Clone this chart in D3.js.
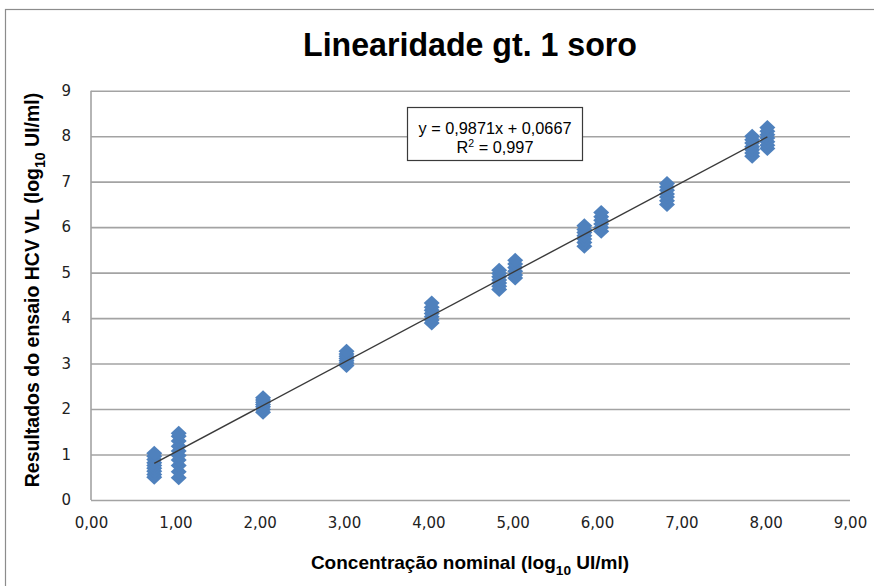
<!DOCTYPE html>
<html>
<head>
<meta charset="utf-8">
<script src="https://cdn.jsdelivr.net/npm/d3@7/dist/d3.min.js"></script>
<style>
  html, body { margin: 0; padding: 0; background: #fff; }
  svg { display: block; }
</style>
</head>
<body>
<svg id="chart" width="874" height="586"></svg>
<script>
// Nominal concentration of each panel level (log10 UI/ml)
const concentration = [0.75, 1.04, 2.04, 3.03, 4.04, 4.84, 5.03, 5.85, 6.05, 6.83, 7.84, 8.02];
// Assay results for the replicates of each level (log10 UI/ml)
const results = [
  [0.50, 0.56, 0.63, 0.70, 0.76, 0.82, 0.89, 0.96, 1.03],
  [0.49, 0.62, 0.76, 0.88, 0.98, 1.08, 1.18, 1.30, 1.40, 1.47],
  [1.93, 1.99, 2.05, 2.10, 2.15, 2.20, 2.25],
  [2.96, 3.01, 3.06, 3.11, 3.16, 3.21, 3.27],
  [3.89, 3.96, 4.03, 4.10, 4.17, 4.24, 4.33],
  [4.63, 4.70, 4.77, 4.84, 4.91, 4.98, 5.05],
  [4.88, 4.95, 5.03, 5.11, 5.19, 5.27],
  [5.58, 5.66, 5.74, 5.81, 5.88, 5.95, 6.03],
  [5.91, 5.99, 6.07, 6.15, 6.23, 6.32],
  [6.50, 6.58, 6.66, 6.73, 6.81, 6.88, 6.96],
  [7.56, 7.63, 7.70, 7.77, 7.85, 7.92, 8.00],
  [7.73, 7.80, 7.88, 7.96, 8.03, 8.11, 8.19]
];
// Linear trendline fitted to the data
const slope = 0.9871;
const intercept = 0.0667;
const rSquared = 0.997;
const xTicks = [0, 1, 2, 3, 4, 5, 6, 7, 8, 9];
const yTicks = [0, 1, 2, 3, 4, 5, 6, 7, 8, 9];

const svg = d3.select("#chart");
const W = 874, H = 586;
const plot = { left: 91, right: 850, top: 90.7, bottom: 500 };

const ptLocale = d3.formatLocale({ decimal: ",", thousands: ".", grouping: [3], currency: ["", ""] });
const fmt2 = ptLocale.format(".2f");
const fmt4 = ptLocale.format(".4f");
const fmt3 = ptLocale.format(".3f");

const x = d3.scaleLinear().domain([0, 9]).range([plot.left, plot.right]);
const y = d3.scaleLinear().domain([0, 9]).range([plot.bottom, plot.top]);

// Outer chart frame
svg.append("rect")
  .attr("x", 5.5).attr("y", 9.5)
  .attr("width", W + 20).attr("height", H + 20)
  .attr("fill", "#fff")
  .attr("stroke", "#8c8c8c").attr("stroke-width", 1.2);

// Horizontal gridlines and y tick labels
const yAxis = d3.axisLeft(y).tickValues(yTicks).tickSize(-(plot.right - plot.left)).tickPadding(20)
  .tickFormat(d3.format("d"));
const gy = svg.append("g").attr("transform", `translate(${plot.left},0)`).call(yAxis);
gy.select(".domain").remove();
gy.selectAll(".tick line").attr("stroke", "#a3a3a3").attr("stroke-width", 1.6);
gy.selectAll(".tick text")
  .attr("font-family", "'DejaVu Sans', Verdana, sans-serif").attr("font-size", 15)
  .attr("fill", "#222");

// Vertical axis line
svg.append("line")
  .attr("x1", plot.left).attr("x2", plot.left)
  .attr("y1", plot.top).attr("y2", plot.bottom)
  .attr("stroke", "#a3a3a3").attr("stroke-width", 1.6);

// X tick labels (no tick marks)
const xAxis = d3.axisBottom(x).tickValues(xTicks).tickSize(0).tickPadding(17).tickFormat(fmt2);
const gx = svg.append("g").attr("transform", `translate(0,${plot.bottom})`).call(xAxis);
gx.select(".domain").remove();
gx.selectAll(".tick text")
  .attr("font-family", "'DejaVu Sans', Verdana, sans-serif").attr("font-size", 15)
  .attr("fill", "#222");

// Data points as diamonds
const points = [];
concentration.forEach((c, i) => results[i].forEach(v => points.push({ x: c, y: v })));
const hw = 8, hh = 7.5;
const diamond = `M0,${-hh}L${hw},0L0,${hh}L${-hw},0Z`;
svg.append("g").selectAll("path").data(points).join("path")
  .attr("d", diamond)
  .attr("transform", d => `translate(${x(d.x)},${y(d.y)})`)
  .attr("fill", "#4f81bd");

// Trendline across the range of the data
const xMin = d3.min(concentration), xMax = d3.max(concentration);
svg.append("line")
  .attr("x1", x(xMin)).attr("y1", y(slope * xMin + intercept))
  .attr("x2", x(xMax)).attr("y2", y(slope * xMax + intercept))
  .attr("stroke", "#3a3a3a").attr("stroke-width", 1.4);

// Equation label
const box = svg.append("g");
box.append("rect")
  .attr("x", 407.5).attr("y", 107.5).attr("width", 175).attr("height", 53)
  .attr("fill", "#fff").attr("stroke", "#3a3a3a").attr("stroke-width", 1.2);
box.append("text")
  .attr("x", 495).attr("y", 133.5)
  .attr("text-anchor", "middle")
  .attr("font-family", "'Liberation Sans', Arial, sans-serif").attr("font-size", 16.3)
  .attr("fill", "#000")
  .text(`y = ${fmt4(slope)}x + ${fmt4(intercept)}`);
const r2 = box.append("text")
  .attr("x", 495).attr("y", 152.5)
  .attr("text-anchor", "middle")
  .attr("font-family", "'Liberation Sans', Arial, sans-serif").attr("font-size", 16.3)
  .attr("fill", "#000");
r2.append("tspan").text("R");
r2.append("tspan").attr("dy", -6).attr("font-size", 10.5).text("2");
r2.append("tspan").attr("dy", 6).text(` = ${fmt3(rSquared)}`);

// Chart title
svg.append("text")
  .attr("x", 470).attr("y", 56)
  .attr("text-anchor", "middle")
  .attr("font-family", "'Liberation Sans', Arial, sans-serif")
  .attr("font-weight", "bold").attr("font-size", 34)
  .attr("textLength", 334).attr("lengthAdjust", "spacingAndGlyphs")
  .attr("fill", "#000")
  .text("Linearidade gt. 1 soro");

// Axis titles with subscripted log base
function axisTitle(g, before, after, size) {
  g.attr("font-family", "'Liberation Sans', Arial, sans-serif")
   .attr("font-weight", "bold").attr("font-size", size)
   .attr("fill", "#000").attr("text-anchor", "middle");
  g.append("tspan").text(before);
  g.append("tspan").attr("dy", size * 0.3).attr("font-size", size * 0.72).text("10");
  g.append("tspan").attr("dy", -size * 0.3).text(after);
}
axisTitle(svg.append("text").attr("x", 470).attr("y", 569),
  "Concentração nominal (log", " UI/ml)", 19);
axisTitle(svg.append("text").attr("transform", "translate(39,290) rotate(-90)"),
  "Resultados do ensaio HCV VL (log", " UI/ml)", 19.5);
</script>
</body>
</html>
